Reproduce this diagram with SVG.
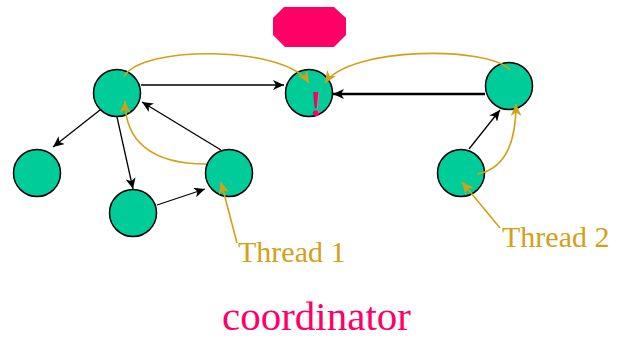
<svg xmlns="http://www.w3.org/2000/svg" width="617" height="339" viewBox="0 0 617 339">
  <style>
    .node { fill: #00cc99; stroke: #000; stroke-width: 1.5; }
    .edge { fill: none; stroke: #000; stroke-width: 1.3; }
    .edge-bold { fill: none; stroke: #000; stroke-width: 2.6; }
    .thread { fill: none; stroke: #d4a017; stroke-width: 1.6; }
    .label { font-family: "Liberation Serif", "Times New Roman", serif; font-size: 30px; fill: #d4a017; }
    .alert { fill: #ff0066; }
  </style>
  <defs>
    <marker id="arrow" markerUnits="userSpaceOnUse" markerWidth="11" markerHeight="10" refX="11" refY="5" orient="auto">
      <path d="M0,0 L11,5 L0,10 L3,5 z" fill="#000"/>
    </marker>
    <marker id="arrow-gold" markerUnits="userSpaceOnUse" markerWidth="12" markerHeight="11" refX="12" refY="5.5" orient="auto">
      <path d="M0,0 L12,5.5 L0,11 L3.5,5.5 z" fill="#d4a017"/>
    </marker>
  </defs>

  <rect width="617" height="339" fill="#fff"/>

  <!-- stop marker -->
  <g id="stop">
    <polygon class="alert" points="284,7 334,7 346,18 346,35 334,47 285,47 273,35 273,18"/>
  </g>

  <!-- message edges between processes -->
  <g id="connectors">
    <path class="edge" d="M141,85 L284,85" marker-end="url(#arrow)"/>
    <path class="edge-bold" d="M485,94 L333,94" marker-end="url(#arrow)"/>
    <path class="edge" d="M100,110 L53,147" marker-end="url(#arrow)"/>
    <path class="edge" d="M117,117 L133,189" marker-end="url(#arrow)"/>
    <path class="edge" d="M157,205 L205,189" marker-end="url(#arrow)"/>
    <path class="edge" d="M221,150 L142,102" marker-end="url(#arrow)"/>
    <path class="edge" d="M469,149 L500,110" marker-end="url(#arrow)"/>
  </g>

  <g id="node-a"><circle class="node" cx="117" cy="93" r="23.5"/></g>
  <g id="node-b"><circle class="node" cx="309" cy="93" r="23.5"/></g>
  <g id="node-c"><circle class="node" cx="509" cy="86" r="23.5"/></g>
  <g id="node-d"><circle class="node" cx="37" cy="173" r="23.5"/></g>
  <g id="node-e"><circle class="node" cx="133" cy="213" r="23.5"/></g>
  <g id="node-f"><circle class="node" cx="229" cy="173" r="23.5"/></g>
  <g id="node-g"><circle class="node" cx="461" cy="173" r="23.5"/></g>

  <!-- thread paths, drawn over the nodes -->
  <g id="thread-connectors">
    <path class="thread" d="M124,77 C140,45 285,45 309,83" marker-end="url(#arrow-gold)"/>
    <path class="thread" d="M510,70 C490,46 350,46 325,83" marker-end="url(#arrow-gold)"/>
    <path class="thread" d="M206,164 C150,164 125,140 125,101" marker-end="url(#arrow-gold)"/>
    <path class="thread" d="M477,174 C500,170 516,150 516,104" marker-end="url(#arrow-gold)"/>
    <path class="thread" d="M237,243 L221,182" marker-end="url(#arrow-gold)"/>
    <path class="thread" d="M500,228 L462,182" marker-end="url(#arrow-gold)"/>
  </g>

  <g id="labels">
    <text x="316" y="116" class="alert" text-anchor="middle" font-family="Liberation Serif, serif" font-weight="bold" font-size="36">!</text>
    <text class="label" x="238" y="262">Thread 1</text>
    <text class="label" x="502" y="247">Thread 2</text>
    <text x="222" y="330" font-family="Liberation Serif, serif" font-size="41" fill="#ff0066">coordinator</text>
  </g>
</svg>
